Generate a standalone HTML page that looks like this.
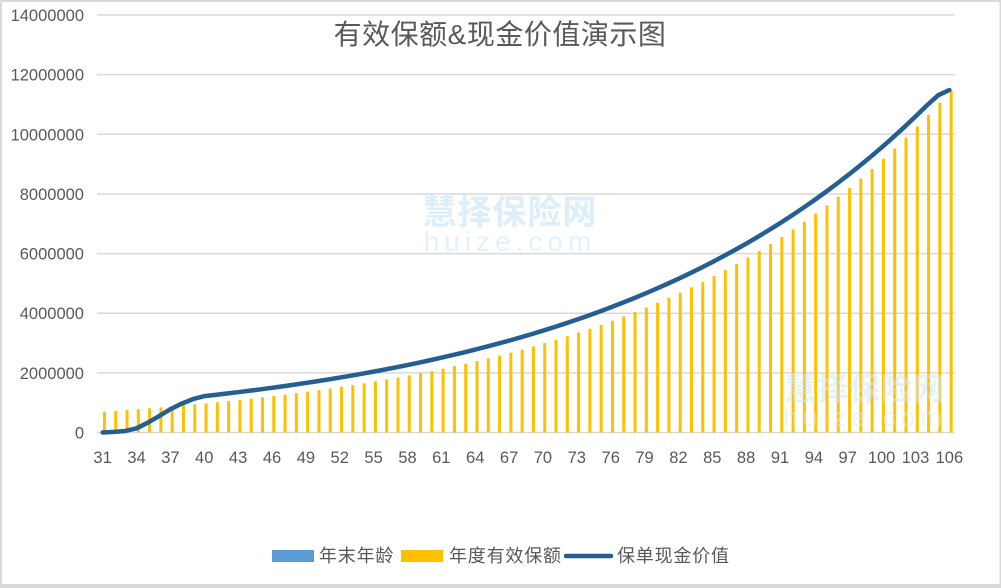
<!DOCTYPE html>
<html>
<head>
<meta charset="utf-8">
<style>
html,body{margin:0;padding:0;background:#fff;}
svg{display:block;}
text{font-family:"Liberation Sans","Noto Sans CJK SC",sans-serif;}
.yl{font-size:16.5px;fill:#595959;text-anchor:end;}
.xl{font-size:16.5px;fill:#595959;text-anchor:middle;}
.lg{font-size:18px;fill:#595959;letter-spacing:0.8px;}
.b rect{fill:#ffc000;}
</style>
</head>
<body>
<svg width="1001" height="588" viewBox="0 0 1001 588" xmlns="http://www.w3.org/2000/svg">
<rect x="0" y="0" width="1001" height="588" fill="#ffffff"/>
<rect x="0" y="0" width="1001" height="2" fill="#d9d9d9"/>
<rect x="0" y="0" width="2" height="588" fill="#d9d9d9"/>
<rect x="999.5" y="0" width="1.5" height="588" fill="#d9d9d9"/>
<rect x="0" y="584" width="1001" height="4" fill="#d9d9d9"/>

<g stroke="#d9d9d9" stroke-width="1.5">
<line x1="97" y1="15.02" x2="955" y2="15.02"/>
<line x1="97" y1="74.66" x2="955" y2="74.66"/>
<line x1="97" y1="134.3" x2="955" y2="134.3"/>
<line x1="97" y1="193.94" x2="955" y2="193.94"/>
<line x1="97" y1="253.58" x2="955" y2="253.58"/>
<line x1="97" y1="313.22" x2="955" y2="313.22"/>
<line x1="97" y1="372.86" x2="955" y2="372.86"/>
<line x1="97" y1="432.5" x2="955" y2="432.5"/>
</g>

<text x="510" y="224" text-anchor="middle" font-size="34" font-weight="bold" fill="#dbeefa" style="letter-spacing:1px">慧择保险网</text>
<text x="510" y="251" text-anchor="middle" font-size="28" fill="#e2f1fb" style="letter-spacing:5px">huize.com</text>

<text class="yl" x="84" y="21">14000000</text>
<text class="yl" x="84" y="80.7">12000000</text>
<text class="yl" x="84" y="140.3">10000000</text>
<text class="yl" x="84" y="200">8000000</text>
<text class="yl" x="84" y="259.6">6000000</text>
<text class="yl" x="84" y="319.2">4000000</text>
<text class="yl" x="84" y="378.9">2000000</text>
<text class="yl" x="84" y="438.5">0</text>

<g class="b" transform="translate(0,432.5) scale(1,-1)">
<rect x="102.94" y="0" width="3" height="20.87"/>
<rect x="114.23" y="0" width="3" height="21.66"/>
<rect x="125.52" y="0" width="3" height="22.49"/>
<rect x="136.81" y="0" width="3" height="23.34"/>
<rect x="148.10" y="0" width="3" height="24.23"/>
<rect x="159.39" y="0" width="3" height="25.15"/>
<rect x="170.68" y="0" width="3" height="26.10"/>
<rect x="181.97" y="0" width="3" height="27.09"/>
<rect x="193.26" y="0" width="3" height="28.12"/>
<rect x="204.55" y="0" width="3" height="29.19"/>
<rect x="215.84" y="0" width="3" height="30.30"/>
<rect x="227.13" y="0" width="3" height="31.45"/>
<rect x="238.41" y="0" width="3" height="32.65"/>
<rect x="249.70" y="0" width="3" height="33.89"/>
<rect x="260.99" y="0" width="3" height="35.18"/>
<rect x="272.28" y="0" width="3" height="36.51"/>
<rect x="283.57" y="0" width="3" height="37.90"/>
<rect x="294.86" y="0" width="3" height="39.34"/>
<rect x="306.15" y="0" width="3" height="40.84"/>
<rect x="317.44" y="0" width="3" height="42.39"/>
<rect x="328.73" y="0" width="3" height="44.00"/>
<rect x="340.02" y="0" width="3" height="45.67"/>
<rect x="351.31" y="0" width="3" height="47.41"/>
<rect x="362.60" y="0" width="3" height="49.21"/>
<rect x="373.89" y="0" width="3" height="51.08"/>
<rect x="385.18" y="0" width="3" height="53.02"/>
<rect x="396.47" y="0" width="3" height="55.04"/>
<rect x="407.76" y="0" width="3" height="57.13"/>
<rect x="419.05" y="0" width="3" height="59.30"/>
<rect x="430.34" y="0" width="3" height="61.56"/>
<rect x="441.63" y="0" width="3" height="63.90"/>
<rect x="452.92" y="0" width="3" height="66.33"/>
<rect x="464.20" y="0" width="3" height="68.85"/>
<rect x="475.49" y="0" width="3" height="71.46"/>
<rect x="486.78" y="0" width="3" height="74.18"/>
<rect x="498.07" y="0" width="3" height="77.00"/>
<rect x="509.36" y="0" width="3" height="79.92"/>
<rect x="520.65" y="0" width="3" height="82.96"/>
<rect x="531.94" y="0" width="3" height="86.11"/>
<rect x="543.23" y="0" width="3" height="89.39"/>
<rect x="554.52" y="0" width="3" height="92.78"/>
<rect x="565.81" y="0" width="3" height="96.31"/>
<rect x="577.10" y="0" width="3" height="99.97"/>
<rect x="588.39" y="0" width="3" height="103.77"/>
<rect x="599.68" y="0" width="3" height="107.71"/>
<rect x="610.97" y="0" width="3" height="111.80"/>
<rect x="622.26" y="0" width="3" height="116.05"/>
<rect x="633.55" y="0" width="3" height="120.46"/>
<rect x="644.84" y="0" width="3" height="125.04"/>
<rect x="656.13" y="0" width="3" height="129.79"/>
<rect x="667.42" y="0" width="3" height="134.73"/>
<rect x="678.71" y="0" width="3" height="139.85"/>
<rect x="690.00" y="0" width="3" height="145.16"/>
<rect x="701.28" y="0" width="3" height="150.68"/>
<rect x="712.57" y="0" width="3" height="156.40"/>
<rect x="723.86" y="0" width="3" height="162.35"/>
<rect x="735.15" y="0" width="3" height="168.52"/>
<rect x="746.44" y="0" width="3" height="174.92"/>
<rect x="757.73" y="0" width="3" height="181.57"/>
<rect x="769.02" y="0" width="3" height="188.47"/>
<rect x="780.31" y="0" width="3" height="195.63"/>
<rect x="791.60" y="0" width="3" height="203.06"/>
<rect x="802.89" y="0" width="3" height="210.78"/>
<rect x="814.18" y="0" width="3" height="218.79"/>
<rect x="825.47" y="0" width="3" height="227.11"/>
<rect x="836.76" y="0" width="3" height="235.74"/>
<rect x="848.05" y="0" width="3" height="244.69"/>
<rect x="859.34" y="0" width="3" height="253.99"/>
<rect x="870.63" y="0" width="3" height="263.64"/>
<rect x="881.92" y="0" width="3" height="273.66"/>
<rect x="893.21" y="0" width="3" height="284.06"/>
<rect x="904.50" y="0" width="3" height="294.86"/>
<rect x="915.79" y="0" width="3" height="306.06"/>
<rect x="927.08" y="0" width="3" height="317.69"/>
<rect x="938.36" y="0" width="3" height="329.76"/>
<rect x="949.65" y="0" width="3" height="342.29"/>
</g>

<g transform="translate(0,432.5) scale(1,-1)">
<polyline fill="none" stroke="#255e91" stroke-width="4.5" stroke-linejoin="round" stroke-linecap="round" points="102.64,0 113.93,0.6 125.22,1.5 136.51,4.2 147.80,9.8 159.09,16.4 170.38,23.3 181.67,28.9 192.96,33.4 204.25,36.38 215.54,37.65 226.83,38.96 238.11,40.32 249.40,41.73 260.69,43.19 271.98,44.69 283.27,46.25 294.56,47.87 305.85,49.54 317.14,51.27 328.43,53.06 339.72,54.91 351.01,56.83 362.30,58.81 373.59,60.86 384.88,62.99 396.17,65.19 407.46,67.46 418.75,69.82 430.04,72.26 441.33,74.78 452.62,77.39 463.90,80.09 475.19,82.88 486.48,85.77 497.77,88.77 509.06,91.87 520.35,95.08 531.64,98.40 542.93,101.83 554.22,105.38 565.51,109.06 576.80,112.87 588.09,116.81 599.38,120.89 610.67,125.11 621.96,129.48 633.25,134.00 644.54,138.68 655.83,143.52 667.12,148.53 678.41,153.71 689.70,159.08 700.98,164.63 712.27,170.38 723.56,176.33 734.85,182.48 746.14,188.85 757.43,195.44 768.72,202.26 780.01,209.32 791.30,216.63 802.59,224.19 813.88,232.02 825.17,240.12 836.46,248.50 847.75,257.17 859.04,266.15 870.33,275.44 881.62,285.05 892.91,295.00 904.20,305.30 915.49,315.96 926.78,326.99 938.06,337.2 949.35,342.5"/>
</g>

<text x="865" y="400" text-anchor="middle" font-size="31" font-weight="bold" fill="#cfe8f7" opacity="0.55" style="letter-spacing:1px">慧择保险网</text>
<text x="865" y="426" text-anchor="middle" font-size="26" fill="#d8edf9" opacity="0.55" style="letter-spacing:5px">huize.com</text>

<text class="xl" x="102.6" y="463">31</text>
<text class="xl" x="136.5" y="463">34</text>
<text class="xl" x="170.4" y="463">37</text>
<text class="xl" x="204.2" y="463">40</text>
<text class="xl" x="238.1" y="463">43</text>
<text class="xl" x="272.0" y="463">46</text>
<text class="xl" x="305.9" y="463">49</text>
<text class="xl" x="339.7" y="463">52</text>
<text class="xl" x="373.6" y="463">55</text>
<text class="xl" x="407.5" y="463">58</text>
<text class="xl" x="441.3" y="463">61</text>
<text class="xl" x="475.2" y="463">64</text>
<text class="xl" x="509.1" y="463">67</text>
<text class="xl" x="542.9" y="463">70</text>
<text class="xl" x="576.8" y="463">73</text>
<text class="xl" x="610.7" y="463">76</text>
<text class="xl" x="644.5" y="463">79</text>
<text class="xl" x="678.4" y="463">82</text>
<text class="xl" x="712.3" y="463">85</text>
<text class="xl" x="746.1" y="463">88</text>
<text class="xl" x="780.0" y="463">91</text>
<text class="xl" x="813.9" y="463">94</text>
<text class="xl" x="847.7" y="463">97</text>
<text class="xl" x="881.6" y="463">100</text>
<text class="xl" x="915.5" y="463">103</text>
<text class="xl" x="949.4" y="463">106</text>

<text x="500" y="44" text-anchor="middle" font-size="28" fill="#595959" style="letter-spacing:0.5px">有效保额&amp;现金价值演示图</text>

<rect x="272" y="550" width="42" height="12" fill="#5b9bd5"/>
<text class="lg" x="319" y="562">年末年龄</text>
<rect x="401" y="550" width="42" height="12" fill="#ffc000"/>
<text class="lg" x="449" y="562">年度有效保额</text>
<line x1="566" y1="556" x2="611" y2="556" stroke="#255e91" stroke-width="4.5" stroke-linecap="round"/>
<text class="lg" x="617" y="562">保单现金价值</text>
</svg>
</body>
</html>
